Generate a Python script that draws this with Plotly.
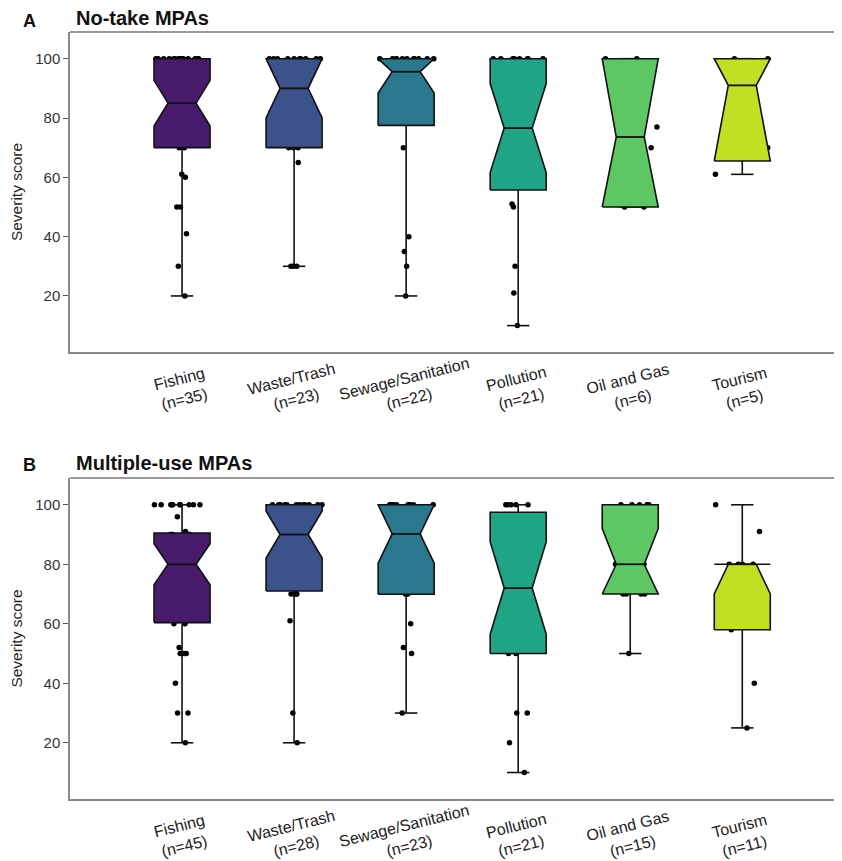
import plotly.graph_objects as go

# ---------------- data ----------------
categories = ["Fishing", "Waste/Trash", "Sewage/Sanitation", "Pollution", "Oil and Gas", "Tourism"]
colors = ["#481B6D", "#3B528B", "#2A788E", "#20A486", "#5DC863", "#C2DF23"]

# Panel A: No-take MPAs
a_n = [35, 23, 22, 21, 6, 5]
a_q1 = [70, 70, 77.5, 55.7, 50, 65.5]
a_median = [85, 90, 95.6, 76.6, 73.6, 91]
a_q3 = [100, 100, 100, 100, 100, 100]
a_whisker_low = [20, 30, 20, 10, 50, 61]
a_whisker_high = [100, 100, 100, 100, 100, 100]
a_notch = [7.7, 10, 7.2, 15, 32, 26]

a_fishing = [100, 100, 100, 100, 100, 100, 100, 100, 100, 100, 100, 100, 100, 100,
             96, 91, 90, 85, 82, 80, 80, 80, 80, 80, 80, 71, 70, 70, 61, 60, 50, 50, 41, 30, 20]
a_waste = [100, 100, 100, 100, 100, 100, 100, 100, 100, 100,
           92, 90, 90, 83, 82, 80, 70, 70, 70, 65, 30, 30, 30]
a_sewage = [100, 100, 100, 100, 100, 100, 100, 100, 100, 100, 100,
            91, 90, 90, 82, 80, 80, 70, 40, 35, 30, 20]
a_pollution = [100, 100, 100, 100, 100, 100, 100, 100,
               95, 90, 80, 73, 71, 70, 70, 70, 51, 50, 30, 21, 10]
a_oil = [100, 100, 77, 70, 50, 50]
a_tourism = [100, 100, 91, 70, 61]

# Panel B: Multiple-use MPAs
b_n = [45, 28, 23, 21, 15, 11]
b_q1 = [60.4, 71, 69.9, 50, 70, 58]
b_median = [80, 90, 90.2, 72, 80, 80]
b_q3 = [90.5, 100, 100, 97.5, 100, 80]
b_whisker_low = [20, 20, 30, 10, 50, 25]
b_whisker_high = [100, 100, 100, 100, 100, 100]
b_notch = [6.9, 7.9, 9.8, 15.5, 12, 10]

b_fishing = [100, 100, 100, 100, 100, 100, 100, 100, 100, 100,
             96, 91, 90, 90, 90, 90, 90, 85, 82, 81, 80, 80, 80, 80, 80, 80,
             71, 70, 70, 70, 70, 70, 70, 61, 60, 60, 52, 50, 50, 50, 50, 40, 30, 30, 20]
b_waste = [100, 100, 100, 100, 100, 100, 100, 100, 100, 100, 100, 100,
           90, 90, 90, 90, 90, 81, 80, 80, 75, 70, 70, 70, 70, 61, 30, 20]
b_sewage = [100, 100, 100, 100, 100, 100, 100, 100, 100, 100,
            90, 90, 90, 90, 80, 80, 75, 70, 70, 60, 52, 50, 30]
b_pollution = [100, 100, 100, 100, 100, 95, 90, 80, 80, 74, 72, 70, 70, 60, 53, 50, 50, 30, 30, 20, 10]
b_oil = [100, 100, 100, 100, 100, 90, 80, 80, 80, 77, 70, 70, 70, 70, 50]
b_tourism = [100, 91, 80, 80, 80, 80, 70, 61, 58, 40, 25]

y_ticks = [20, 40, 60, 80, 100]

# ---------------- style ----------------
FONT = "Liberation Sans, Arial, Helvetica, sans-serif"
HALF = 0.25        # half box width (category units)
NOTCH_FRAC = 0.5   # waist width relative to box width
CAP = 0.1          # half width of whisker caps
Y_RANGE = [1.1, 109]
X_RANGE = [-1, 5.89]

# the page body has an 8px margin, so the figure is laid out 8px smaller
W, H = 834, 853
OFF = 8

fig = go.Figure()


def add_panel(xa, ya, q1, med, q3, wlo, whi, notch, points):
    # whiskers + caps
    wx, wy = [], []
    for i in range(len(categories)):
        c = i
        wx += [c, c, None, c, c, None,
               c - CAP, c + CAP, None, c - CAP, c + CAP, None]
        wy += [q1[i], wlo[i], None, q3[i], whi[i], None,
               wlo[i], wlo[i], None, whi[i], whi[i], None]
    fig.add_trace(go.Scatter(x=wx, y=wy, mode="lines", xaxis=xa, yaxis=ya,
                             line=dict(color="#111111", width=1.6),
                             hoverinfo="skip", showlegend=False))
    # notched boxes (notches clipped to the hinges)
    mx, my = [], []
    for i, cat in enumerate(categories):
        c = i
        lo = max(q1[i], med[i] - notch[i])
        hi = min(q3[i], med[i] + notch[i])
        x0, x1 = c - HALF, c + HALF
        m0, m1 = c - HALF * NOTCH_FRAC, c + HALF * NOTCH_FRAC
        xs = [x0, x0, m0, x0, x0, x1, x1, m1, x1, x1, x0]
        ys = [q1[i], lo, med[i], hi, q3[i], q3[i], hi, med[i], lo, q1[i], q1[i]]
        fig.add_trace(go.Scatter(x=xs, y=ys, mode="lines", fill="toself",
                                 fillcolor=colors[i], xaxis=xa, yaxis=ya,
                                 line=dict(color="#111111", width=1.6),
                                 name=cat, hoverinfo="skip", showlegend=False))
        mx += [m0, m1, None]
        my += [med[i], med[i], None]
    fig.add_trace(go.Scatter(x=mx, y=my, mode="lines", xaxis=xa, yaxis=ya,
                             line=dict(color="#111111", width=1.8),
                             hoverinfo="skip", showlegend=False))
    # jittered points
    px, py = [], []
    for i, vals in enumerate(points):
        px += [i] * len(vals)
        py += vals
    fig.add_trace(go.Box(x=px, y=py, xaxis=xa, yaxis=ya, boxpoints="all",
                         jitter=1.0, pointpos=0, width=0.5,
                         fillcolor="rgba(0,0,0,0)",
                         line=dict(color="rgba(0,0,0,0)", width=0),
                         marker=dict(color="black", size=5.5),
                         hoverinfo="y", showlegend=False))


add_panel("x", "y", a_q1, a_median, a_q3, a_whisker_low, a_whisker_high, a_notch,
          [a_fishing, a_waste, a_sewage, a_pollution, a_oil, a_tourism])
add_panel("x2", "y2", b_q1, b_median, b_q3, b_whisker_low, b_whisker_high, b_notch,
          [b_fishing, b_waste, b_sewage, b_pollution, b_oil, b_tourism])


def px_x(v):
    return (v - OFF) / W


def px_y(v):
    return 1 - (v - OFF) / H


x_dom = [px_x(70), 1.0]
dom_a = [px_y(352), px_y(32)]
dom_b = [px_y(799), px_y(478)]

xaxis_style = dict(range=X_RANGE, domain=x_dom, showline=True, linecolor="#8a8a8a",
                   linewidth=1.5, ticks="", showticklabels=False, showgrid=False,
                   zeroline=False, fixedrange=True)
yaxis_style = dict(range=Y_RANGE, tickvals=y_ticks, ticks="outside", ticklen=5,
                   tickwidth=1, tickcolor="#555555", showline=True, linecolor="#8a8a8a",
                   linewidth=1.5, showgrid=False, zeroline=False, fixedrange=True,
                   tickfont=dict(size=15, color="#333333", family=FONT),
                   title=dict(text="Severity score", font=dict(size=15.5, color="#222222", family=FONT),
                              standoff=13))

fig.update_layout(
    width=W, height=H,
    margin=dict(l=0, r=0, t=0, b=0, autoexpand=False),
    plot_bgcolor="white", paper_bgcolor="white",
    showlegend=False,
    font=dict(family=FONT, color="#222222"),
    xaxis=dict(anchor="y", **xaxis_style),
    yaxis=dict(anchor="x", domain=dom_a, **yaxis_style),
    xaxis2=dict(anchor="y2", **xaxis_style),
    yaxis2=dict(anchor="x2", domain=dom_b, **yaxis_style),
)

# top border of each panel
for xr, yr in [("x domain", "y domain"), ("x2 domain", "y2 domain")]:
    fig.add_shape(type="line", xref=xr, yref=yr, x0=0, x1=1, y0=1, y1=1,
                  line=dict(color="#333333", width=1.2))

# category labels (rotated, two lines)
for xr, yr, ns in [("x", "y domain", a_n), ("x2", "y2 domain", b_n)]:
    for i, cat in enumerate(categories):
        fig.add_annotation(x=i, y=-0.115, xref=xr, yref=yr,
                           text=f"{cat}<br>(n={ns[i]})", showarrow=False,
                           textangle=-14, xanchor="center", yanchor="middle",
                           font=dict(size=16, color="#222222", family=FONT))

# panel titles
titles = [("A", "No-take MPAs", 21.5, 17.5),
          ("B", "Multiple-use MPAs", 465, 462.5)]
for letter, title, yl, yt in titles:
    fig.add_annotation(x=px_x(21), y=px_y(yl), xref="paper", yref="paper", text=f"<b>{letter}</b>",
                       showarrow=False, xanchor="left", yanchor="middle",
                       font=dict(size=18, color="#111111", family=FONT))
    fig.add_annotation(x=px_x(74), y=px_y(yt), xref="paper", yref="paper", text=f"<b>{title}</b>",
                       showarrow=False, xanchor="left", yanchor="middle",
                       font=dict(size=20, color="#111111", family=FONT))

fig.write_html("out.html")
